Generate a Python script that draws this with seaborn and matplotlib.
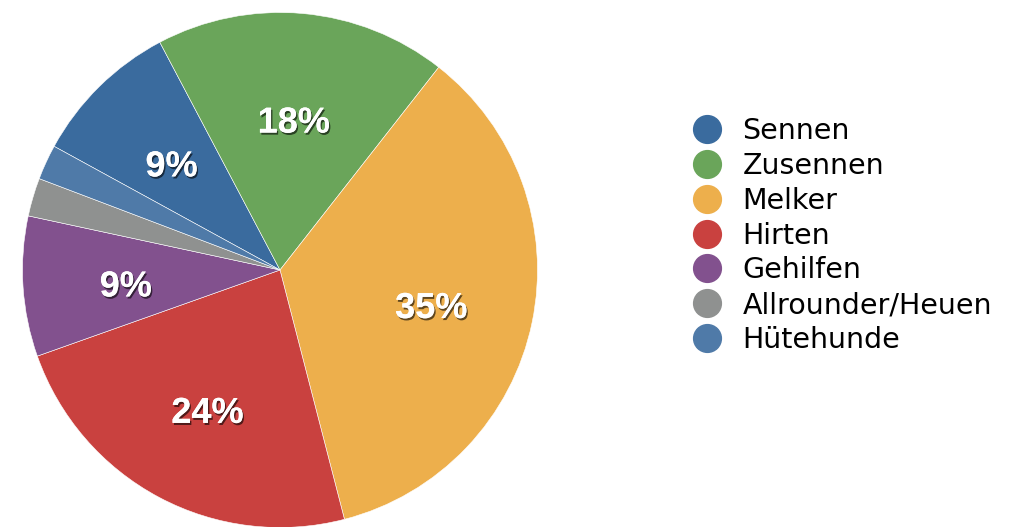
"""Pie chart of staff roles on the Alp (share in %)."""

import matplotlib.pyplot as plt
import matplotlib.patheffects as pe
from matplotlib.lines import Line2D
import seaborn as sns

sns.set_theme(style="white")
plt.rcParams["font.family"] = ["DejaVu Sans"]

# data (share of all workers, %)
roles = ["Sennen", "Zusennen", "Melker", "Hirten", "Gehilfen",
         "Allrounder/Heuen", "Hütehunde"]
shares = [9.3, 18.3, 35.4, 23.6, 8.8, 2.4, 2.2]
colors = ["#3a6b9e", "#6aa55a", "#edaf4c", "#c9413f", "#82518e",
          "#8f9190", "#4f7aa8"]
palette = sns.color_palette(colors)

fig = plt.figure(figsize=(10.31, 5.27), dpi=100)
W, H = 1031, 527
cx, cy, r = 280, 270, 257.5
ax = fig.add_axes([(cx - r) / W, (H - cy - r) / H, 2 * r / W, 2 * r / H])


def pct_label(p):
    # small slices carry no label
    return f"{p:.0f}%" if p >= 5 else ""


wedges, texts, autotexts = ax.pie(
    shares,
    colors=palette,
    startangle=151.3,
    counterclock=False,
    radius=1.0,
    autopct=pct_label,
    pctdistance=0.6,
    wedgeprops=dict(edgecolor="white", linewidth=0.4),
    textprops=dict(color="white", fontsize=26, fontweight="bold",
                   family="Liberation Sans"),
)
for t in autotexts:
    x, y = t.get_position()
    t.set_position((x, y - 0.027))
    t.set_path_effects([
        pe.withSimplePatchShadow(offset=(1, -1.5), shadow_rgbFace="black",
                                 alpha=0.6),
        pe.Normal(),
    ])
ax.set_xlim(-1, 1)
ax.set_ylim(-1, 1)
ax.set_aspect("equal")
ax.axis("off")

handles = [
    Line2D([0], [0], marker="o", linestyle="none", markersize=20,
           markerfacecolor=c, markeredgecolor=c)
    for c in palette
]
fig.legend(
    handles, roles,
    loc="upper left",
    bbox_to_anchor=(693 / W, 1 - 117 / H),
    frameon=False,
    fontsize=20.5,
    labelcolor="black",
    handlelength=0.98,
    handletextpad=0.76,
    labelspacing=0.24,
    borderpad=0,
    borderaxespad=0,
)

fig.savefig("out.png", dpi=100, facecolor="white")
